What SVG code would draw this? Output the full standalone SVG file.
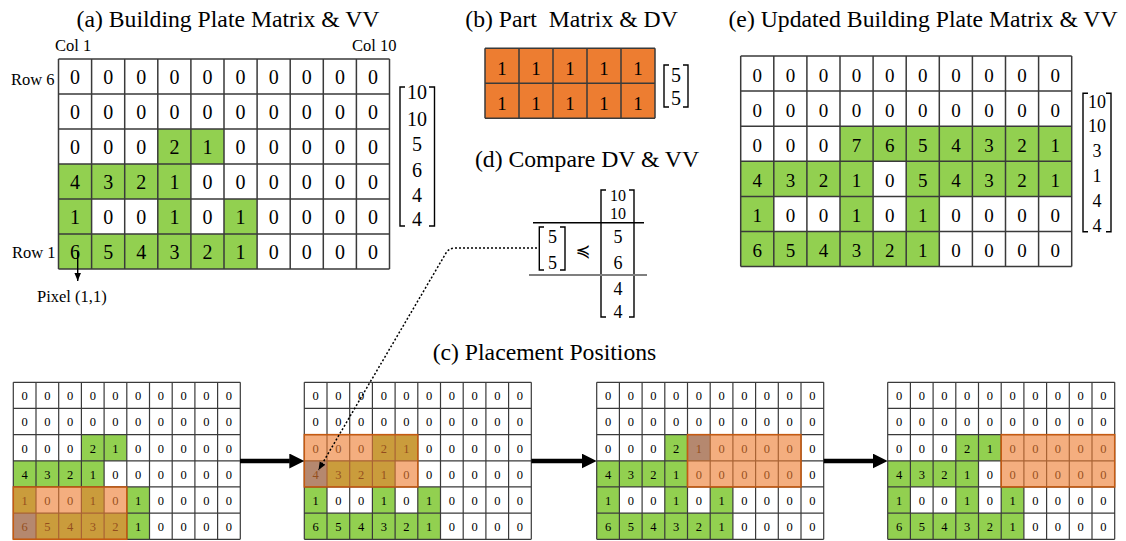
<svg xmlns="http://www.w3.org/2000/svg" width="1126" height="541" viewBox="0 0 1126 541">
<style>
text{font-family:"Liberation Serif","Times New Roman",serif;fill:#000}
.title{font-size:23.7px;text-anchor:middle}
.lbl{font-size:16.5px}
.d20{font-size:20px;text-anchor:middle}
.d19{font-size:19px;text-anchor:middle}
.d12{font-size:12.5px;text-anchor:middle}
.vec{font-size:20px;text-anchor:middle}
.vec18{font-size:18px;text-anchor:middle}
.vec16{font-size:16px;text-anchor:middle}
.grid{fill:none;stroke:#3a3a3a;stroke-width:1.5}
.sgrid{fill:none;stroke:#3a3a3a;stroke-width:1.2}
.g{fill:#92D050}
.o{fill:#ED7D31}
.px{fill:#5B9BD5}
.ov{fill:#ED7D31;fill-opacity:0.62;stroke:#C55A11;stroke-width:1.5}
.br{fill:none;stroke:#000;stroke-width:1.4}
.thick{stroke:#000;stroke-width:4.5;fill:none}
.dot{stroke:#000;stroke-width:1.5;fill:none;stroke-dasharray:2 2}
.thin{stroke:#000;stroke-width:1.4;fill:none}
</style>
<defs>
<marker id="bigArrow" markerUnits="userSpaceOnUse" markerWidth="16" markerHeight="16" refX="0.5" refY="7.5" orient="auto"><path d="M0,0 L15,7.5 L0,15 z" fill="#000"/></marker>
<marker id="smallArrow" markerUnits="userSpaceOnUse" markerWidth="9" markerHeight="7" refX="8" refY="3.25" orient="auto"><path d="M0,0 L8,3.25 L0,6.5 z" fill="#000"/></marker>
</defs>

<!-- (a) -->
<g id="plate-a">
<text class="title" x="228" y="27">(a) Building Plate Matrix &amp; VV</text>
<text class="lbl" x="55" y="50.5">Col 1</text>
<text class="lbl" x="352" y="50.5">Col 10</text>
<text class="lbl" x="11" y="85">Row 6</text>
<text class="lbl" x="12" y="258.3">Row 1</text>
<text class="lbl" x="37" y="301.5">Pixel (1,1)</text>
<rect class="g" x="157.8" y="129" width="66.2" height="35"/>
<rect class="g" x="58.5" y="164" width="132.4" height="35"/>
<rect class="g" x="58.5" y="199" width="33.1" height="35"/>
<rect class="g" x="157.8" y="199" width="33.1" height="35"/>
<rect class="g" x="224" y="199" width="33.1" height="35"/>
<rect class="g" x="58.5" y="234" width="198.6" height="35"/>
<path class="grid" d="M58.5,59V269M91.6,59V269M124.7,59V269M157.8,59V269M190.9,59V269M224,59V269M257.1,59V269M290.2,59V269M323.3,59V269M356.4,59V269M389.5,59V269M58.5,59H389.5M58.5,94H389.5M58.5,129H389.5M58.5,164H389.5M58.5,199H389.5M58.5,234H389.5M58.5,269H389.5"/>
<g class="d20">
<text x="75.1" y="84">0</text><text x="108.2" y="84">0</text><text x="141.3" y="84">0</text><text x="174.4" y="84">0</text><text x="207.5" y="84">0</text><text x="240.6" y="84">0</text><text x="273.7" y="84">0</text><text x="306.8" y="84">0</text><text x="339.9" y="84">0</text><text x="373" y="84">0</text>
<text x="75.1" y="119">0</text><text x="108.2" y="119">0</text><text x="141.3" y="119">0</text><text x="174.4" y="119">0</text><text x="207.5" y="119">0</text><text x="240.6" y="119">0</text><text x="273.7" y="119">0</text><text x="306.8" y="119">0</text><text x="339.9" y="119">0</text><text x="373" y="119">0</text>
<text x="75.1" y="154">0</text><text x="108.2" y="154">0</text><text x="141.3" y="154">0</text><text x="174.4" y="154">2</text><text x="207.5" y="154">1</text><text x="240.6" y="154">0</text><text x="273.7" y="154">0</text><text x="306.8" y="154">0</text><text x="339.9" y="154">0</text><text x="373" y="154">0</text>
<text x="75.1" y="189">4</text><text x="108.2" y="189">3</text><text x="141.3" y="189">2</text><text x="174.4" y="189">1</text><text x="207.5" y="189">0</text><text x="240.6" y="189">0</text><text x="273.7" y="189">0</text><text x="306.8" y="189">0</text><text x="339.9" y="189">0</text><text x="373" y="189">0</text>
<text x="75.1" y="224">1</text><text x="108.2" y="224">0</text><text x="141.3" y="224">0</text><text x="174.4" y="224">1</text><text x="207.5" y="224">0</text><text x="240.6" y="224">1</text><text x="273.7" y="224">0</text><text x="306.8" y="224">0</text><text x="339.9" y="224">0</text><text x="373" y="224">0</text>
<text x="75.1" y="259">6</text><text x="108.2" y="259">5</text><text x="141.3" y="259">4</text><text x="174.4" y="259">3</text><text x="207.5" y="259">2</text><text x="240.6" y="259">1</text><text x="273.7" y="259">0</text><text x="306.8" y="259">0</text><text x="339.9" y="259">0</text><text x="373" y="259">0</text>
</g>
<path class="br" d="M405,87H400V226H405M429,87H434.5V226H429"/>
<g class="vec">
<text x="417" y="99">10</text><text x="417" y="126">10</text><text x="417" y="150.7">5</text><text x="417" y="176.7">6</text><text x="417" y="201.7">4</text><text x="417" y="226">4</text>
</g>
</g>

<!-- (b) -->
<g id="part-b">
<text class="title" x="571.5" y="27" xml:space="preserve">(b) Part  Matrix &amp; DV</text>
<rect class="o" x="485" y="48.3" width="170" height="70"/>
<path class="grid" d="M485,48.3V118.3M519,48.3V118.3M553,48.3V118.3M587,48.3V118.3M621,48.3V118.3M655,48.3V118.3M485,48.3H655M485,83.3H655M485,118.3H655"/>
<g class="d19">
<text x="502" y="75">1</text><text x="536" y="75">1</text><text x="570" y="75">1</text><text x="604" y="75">1</text><text x="638" y="75">1</text>
<text x="502" y="110">1</text><text x="536" y="110">1</text><text x="570" y="110">1</text><text x="604" y="110">1</text><text x="638" y="110">1</text>
</g>
<path class="br" d="M669,65H664V107H669M683,65H688V107H683"/>
<text class="vec" x="676" y="82">5</text>
<text class="vec" x="676" y="105">5</text>
</g>

<!-- (d) -->
<g id="compare-d">
<text class="title" x="587" y="167">(d) Compare DV &amp; VV</text>
<path class="br" d="M606,190H601V317H606M629,190H634V317H629"/>
<g class="vec16">
<text x="618" y="201">10</text><text x="618" y="219">10</text>
</g>
<g class="vec18">
<text x="618" y="243">5</text><text x="618" y="269">6</text><text x="618" y="295">4</text><text x="618" y="318">4</text>
</g>
<path d="M533,222.7H644" stroke="#000" stroke-width="1.5"/>
<path d="M529,275H647" stroke="#7f7f7f" stroke-width="2"/>
<path class="br" d="M544,227H539.3V270H544M560,227H565V270H560"/>
<text class="vec18" x="552.5" y="243.3">5</text>
<text class="vec18" x="552.5" y="269">5</text>
<text x="583" y="257" style="font-family:'DejaVu Serif','DejaVu Sans',serif;font-size:18px;text-anchor:middle">≼</text>
</g>

<!-- (e) -->
<g id="plate-e">
<text class="title" x="923" y="27">(e) Updated Building Plate Matrix &amp; VV</text>
<rect class="g" x="840" y="126.2" width="231.7" height="35.1"/>
<rect class="g" x="740.7" y="161.3" width="132.4" height="35.1"/>
<rect class="g" x="906.2" y="161.3" width="165.5" height="35.1"/>
<rect class="g" x="740.7" y="196.4" width="33.1" height="35.1"/>
<rect class="g" x="840" y="196.4" width="33.1" height="35.1"/>
<rect class="g" x="906.2" y="196.4" width="33.1" height="35.1"/>
<rect class="g" x="740.7" y="231.5" width="198.6" height="35.1"/>
<path class="grid" d="M740.7,56V266.6M773.8,56V266.6M806.9,56V266.6M840,56V266.6M873.1,56V266.6M906.2,56V266.6M939.3,56V266.6M972.4,56V266.6M1005.5,56V266.6M1038.6,56V266.6M1071.7,56V266.6M740.7,56H1071.7M740.7,91.1H1071.7M740.7,126.2H1071.7M740.7,161.3H1071.7M740.7,196.4H1071.7M740.7,231.5H1071.7M740.7,266.6H1071.7"/>
<g class="d19">
<text x="757.3" y="81.5">0</text><text x="790.4" y="81.5">0</text><text x="823.5" y="81.5">0</text><text x="856.6" y="81.5">0</text><text x="889.7" y="81.5">0</text><text x="922.8" y="81.5">0</text><text x="955.9" y="81.5">0</text><text x="989" y="81.5">0</text><text x="1022.1" y="81.5">0</text><text x="1055.2" y="81.5">0</text>
<text x="757.3" y="116.6">0</text><text x="790.4" y="116.6">0</text><text x="823.5" y="116.6">0</text><text x="856.6" y="116.6">0</text><text x="889.7" y="116.6">0</text><text x="922.8" y="116.6">0</text><text x="955.9" y="116.6">0</text><text x="989" y="116.6">0</text><text x="1022.1" y="116.6">0</text><text x="1055.2" y="116.6">0</text>
<text x="757.3" y="151.8">0</text><text x="790.4" y="151.8">0</text><text x="823.5" y="151.8">0</text><text x="856.6" y="151.8">7</text><text x="889.7" y="151.8">6</text><text x="922.8" y="151.8">5</text><text x="955.9" y="151.8">4</text><text x="989" y="151.8">3</text><text x="1022.1" y="151.8">2</text><text x="1055.2" y="151.8">1</text>
<text x="757.3" y="186.9">4</text><text x="790.4" y="186.9">3</text><text x="823.5" y="186.9">2</text><text x="856.6" y="186.9">1</text><text x="889.7" y="186.9">0</text><text x="922.8" y="186.9">5</text><text x="955.9" y="186.9">4</text><text x="989" y="186.9">3</text><text x="1022.1" y="186.9">2</text><text x="1055.2" y="186.9">1</text>
<text x="757.3" y="222">1</text><text x="790.4" y="222">0</text><text x="823.5" y="222">0</text><text x="856.6" y="222">1</text><text x="889.7" y="222">0</text><text x="922.8" y="222">1</text><text x="955.9" y="222">0</text><text x="989" y="222">0</text><text x="1022.1" y="222">0</text><text x="1055.2" y="222">0</text>
<text x="757.3" y="257">6</text><text x="790.4" y="257">5</text><text x="823.5" y="257">4</text><text x="856.6" y="257">3</text><text x="889.7" y="257">2</text><text x="922.8" y="257">1</text><text x="955.9" y="257">0</text><text x="989" y="257">0</text><text x="1022.1" y="257">0</text><text x="1055.2" y="257">0</text>
</g>
<path class="br" d="M1088,93.3H1083V231.7H1088M1106,93.3H1111V231.7H1106"/>
<g class="vec18">
<text x="1097" y="108">10</text><text x="1097" y="132">10</text><text x="1097" y="157">3</text><text x="1097" y="182">1</text><text x="1097" y="207">4</text><text x="1097" y="232">4</text>
</g>
</g>

<!-- (c) -->
<text class="title" x="544.5" y="360">(c) Placement Positions</text>

<g id="pos-1" transform="translate(13.3,382.3)">
<rect class="g" x="68.1" y="52.33" width="45.4" height="26.17"/>
<rect class="g" x="0" y="78.5" width="90.8" height="26.17"/>
<rect class="g" x="0" y="104.67" width="22.7" height="26.17"/>
<rect class="g" x="68.1" y="104.67" width="22.7" height="26.17"/>
<rect class="g" x="113.5" y="104.67" width="22.7" height="26.17"/>
<rect class="g" x="0" y="130.83" width="136.2" height="26.17"/>
<rect class="px" x="0" y="130.83" width="22.7" height="26.17"/>
<path class="sgrid" d="M0,0V157M22.7,0V157M45.4,0V157M68.1,0V157M90.8,0V157M113.5,0V157M136.2,0V157M158.9,0V157M181.6,0V157M204.3,0V157M227,0V157M0,0H227M0,26.17H227M0,52.33H227M0,78.5H227M0,104.67H227M0,130.83H227M0,157H227"/>
<g class="d12">
<text x="11.4" y="18">0</text><text x="34.1" y="18">0</text><text x="56.8" y="18">0</text><text x="79.5" y="18">0</text><text x="102.2" y="18">0</text><text x="124.9" y="18">0</text><text x="147.6" y="18">0</text><text x="170.3" y="18">0</text><text x="193" y="18">0</text><text x="215.7" y="18">0</text>
<text x="11.4" y="44.2">0</text><text x="34.1" y="44.2">0</text><text x="56.8" y="44.2">0</text><text x="79.5" y="44.2">0</text><text x="102.2" y="44.2">0</text><text x="124.9" y="44.2">0</text><text x="147.6" y="44.2">0</text><text x="170.3" y="44.2">0</text><text x="193" y="44.2">0</text><text x="215.7" y="44.2">0</text>
<text x="11.4" y="70.3">0</text><text x="34.1" y="70.3">0</text><text x="56.8" y="70.3">0</text><text x="79.5" y="70.3">2</text><text x="102.2" y="70.3">1</text><text x="124.9" y="70.3">0</text><text x="147.6" y="70.3">0</text><text x="170.3" y="70.3">0</text><text x="193" y="70.3">0</text><text x="215.7" y="70.3">0</text>
<text x="11.4" y="96.5">4</text><text x="34.1" y="96.5">3</text><text x="56.8" y="96.5">2</text><text x="79.5" y="96.5">1</text><text x="102.2" y="96.5">0</text><text x="124.9" y="96.5">0</text><text x="147.6" y="96.5">0</text><text x="170.3" y="96.5">0</text><text x="193" y="96.5">0</text><text x="215.7" y="96.5">0</text>
<text x="11.4" y="122.7">1</text><text x="34.1" y="122.7">0</text><text x="56.8" y="122.7">0</text><text x="79.5" y="122.7">1</text><text x="102.2" y="122.7">0</text><text x="124.9" y="122.7">1</text><text x="147.6" y="122.7">0</text><text x="170.3" y="122.7">0</text><text x="193" y="122.7">0</text><text x="215.7" y="122.7">0</text>
<text x="11.4" y="148.8">6</text><text x="34.1" y="148.8">5</text><text x="56.8" y="148.8">4</text><text x="79.5" y="148.8">3</text><text x="102.2" y="148.8">2</text><text x="124.9" y="148.8">1</text><text x="147.6" y="148.8">0</text><text x="170.3" y="148.8">0</text><text x="193" y="148.8">0</text><text x="215.7" y="148.8">0</text>
</g>
<rect class="ov" x="0" y="104.67" width="113.5" height="52.33"/>
</g>

<g id="pos-2" transform="translate(304.3,382.3)">
<rect class="g" x="68.1" y="52.33" width="45.4" height="26.17"/>
<rect class="g" x="0" y="78.5" width="90.8" height="26.17"/>
<rect class="g" x="0" y="104.67" width="22.7" height="26.17"/>
<rect class="g" x="68.1" y="104.67" width="22.7" height="26.17"/>
<rect class="g" x="113.5" y="104.67" width="22.7" height="26.17"/>
<rect class="g" x="0" y="130.83" width="136.2" height="26.17"/>
<rect class="px" x="0" y="78.5" width="22.7" height="26.17"/>
<path class="sgrid" d="M0,0V157M22.7,0V157M45.4,0V157M68.1,0V157M90.8,0V157M113.5,0V157M136.2,0V157M158.9,0V157M181.6,0V157M204.3,0V157M227,0V157M0,0H227M0,26.17H227M0,52.33H227M0,78.5H227M0,104.67H227M0,130.83H227M0,157H227"/>
<g class="d12">
<text x="11.4" y="18">0</text><text x="34.1" y="18">0</text><text x="56.8" y="18">0</text><text x="79.5" y="18">0</text><text x="102.2" y="18">0</text><text x="124.9" y="18">0</text><text x="147.6" y="18">0</text><text x="170.3" y="18">0</text><text x="193" y="18">0</text><text x="215.7" y="18">0</text>
<text x="11.4" y="44.2">0</text><text x="34.1" y="44.2">0</text><text x="56.8" y="44.2">0</text><text x="79.5" y="44.2">0</text><text x="102.2" y="44.2">0</text><text x="124.9" y="44.2">0</text><text x="147.6" y="44.2">0</text><text x="170.3" y="44.2">0</text><text x="193" y="44.2">0</text><text x="215.7" y="44.2">0</text>
<text x="11.4" y="70.3">0</text><text x="34.1" y="70.3">0</text><text x="56.8" y="70.3">0</text><text x="79.5" y="70.3">2</text><text x="102.2" y="70.3">1</text><text x="124.9" y="70.3">0</text><text x="147.6" y="70.3">0</text><text x="170.3" y="70.3">0</text><text x="193" y="70.3">0</text><text x="215.7" y="70.3">0</text>
<text x="11.4" y="96.5">4</text><text x="34.1" y="96.5">3</text><text x="56.8" y="96.5">2</text><text x="79.5" y="96.5">1</text><text x="102.2" y="96.5">0</text><text x="124.9" y="96.5">0</text><text x="147.6" y="96.5">0</text><text x="170.3" y="96.5">0</text><text x="193" y="96.5">0</text><text x="215.7" y="96.5">0</text>
<text x="11.4" y="122.7">1</text><text x="34.1" y="122.7">0</text><text x="56.8" y="122.7">0</text><text x="79.5" y="122.7">1</text><text x="102.2" y="122.7">0</text><text x="124.9" y="122.7">1</text><text x="147.6" y="122.7">0</text><text x="170.3" y="122.7">0</text><text x="193" y="122.7">0</text><text x="215.7" y="122.7">0</text>
<text x="11.4" y="148.8">6</text><text x="34.1" y="148.8">5</text><text x="56.8" y="148.8">4</text><text x="79.5" y="148.8">3</text><text x="102.2" y="148.8">2</text><text x="124.9" y="148.8">1</text><text x="147.6" y="148.8">0</text><text x="170.3" y="148.8">0</text><text x="193" y="148.8">0</text><text x="215.7" y="148.8">0</text>
</g>
<rect class="ov" x="0" y="52.33" width="113.5" height="52.33"/>
</g>

<g id="pos-3" transform="translate(596.7,382.3)">
<rect class="g" x="68.1" y="52.33" width="45.4" height="26.17"/>
<rect class="g" x="0" y="78.5" width="90.8" height="26.17"/>
<rect class="g" x="0" y="104.67" width="22.7" height="26.17"/>
<rect class="g" x="68.1" y="104.67" width="22.7" height="26.17"/>
<rect class="g" x="113.5" y="104.67" width="22.7" height="26.17"/>
<rect class="g" x="0" y="130.83" width="136.2" height="26.17"/>
<rect class="px" x="90.8" y="52.33" width="22.7" height="26.17"/>
<path class="sgrid" d="M0,0V157M22.7,0V157M45.4,0V157M68.1,0V157M90.8,0V157M113.5,0V157M136.2,0V157M158.9,0V157M181.6,0V157M204.3,0V157M227,0V157M0,0H227M0,26.17H227M0,52.33H227M0,78.5H227M0,104.67H227M0,130.83H227M0,157H227"/>
<g class="d12">
<text x="11.4" y="18">0</text><text x="34.1" y="18">0</text><text x="56.8" y="18">0</text><text x="79.5" y="18">0</text><text x="102.2" y="18">0</text><text x="124.9" y="18">0</text><text x="147.6" y="18">0</text><text x="170.3" y="18">0</text><text x="193" y="18">0</text><text x="215.7" y="18">0</text>
<text x="11.4" y="44.2">0</text><text x="34.1" y="44.2">0</text><text x="56.8" y="44.2">0</text><text x="79.5" y="44.2">0</text><text x="102.2" y="44.2">0</text><text x="124.9" y="44.2">0</text><text x="147.6" y="44.2">0</text><text x="170.3" y="44.2">0</text><text x="193" y="44.2">0</text><text x="215.7" y="44.2">0</text>
<text x="11.4" y="70.3">0</text><text x="34.1" y="70.3">0</text><text x="56.8" y="70.3">0</text><text x="79.5" y="70.3">2</text><text x="102.2" y="70.3">1</text><text x="124.9" y="70.3">0</text><text x="147.6" y="70.3">0</text><text x="170.3" y="70.3">0</text><text x="193" y="70.3">0</text><text x="215.7" y="70.3">0</text>
<text x="11.4" y="96.5">4</text><text x="34.1" y="96.5">3</text><text x="56.8" y="96.5">2</text><text x="79.5" y="96.5">1</text><text x="102.2" y="96.5">0</text><text x="124.9" y="96.5">0</text><text x="147.6" y="96.5">0</text><text x="170.3" y="96.5">0</text><text x="193" y="96.5">0</text><text x="215.7" y="96.5">0</text>
<text x="11.4" y="122.7">1</text><text x="34.1" y="122.7">0</text><text x="56.8" y="122.7">0</text><text x="79.5" y="122.7">1</text><text x="102.2" y="122.7">0</text><text x="124.9" y="122.7">1</text><text x="147.6" y="122.7">0</text><text x="170.3" y="122.7">0</text><text x="193" y="122.7">0</text><text x="215.7" y="122.7">0</text>
<text x="11.4" y="148.8">6</text><text x="34.1" y="148.8">5</text><text x="56.8" y="148.8">4</text><text x="79.5" y="148.8">3</text><text x="102.2" y="148.8">2</text><text x="124.9" y="148.8">1</text><text x="147.6" y="148.8">0</text><text x="170.3" y="148.8">0</text><text x="193" y="148.8">0</text><text x="215.7" y="148.8">0</text>
</g>
<rect class="ov" x="90.8" y="52.33" width="113.5" height="52.33"/>
</g>

<g id="pos-4" transform="translate(887.7,382.3)">
<rect class="g" x="68.1" y="52.33" width="45.4" height="26.17"/>
<rect class="g" x="0" y="78.5" width="90.8" height="26.17"/>
<rect class="g" x="0" y="104.67" width="22.7" height="26.17"/>
<rect class="g" x="68.1" y="104.67" width="22.7" height="26.17"/>
<rect class="g" x="113.5" y="104.67" width="22.7" height="26.17"/>
<rect class="g" x="0" y="130.83" width="136.2" height="26.17"/>
<path class="sgrid" d="M0,0V157M22.7,0V157M45.4,0V157M68.1,0V157M90.8,0V157M113.5,0V157M136.2,0V157M158.9,0V157M181.6,0V157M204.3,0V157M227,0V157M0,0H227M0,26.17H227M0,52.33H227M0,78.5H227M0,104.67H227M0,130.83H227M0,157H227"/>
<g class="d12">
<text x="11.4" y="18">0</text><text x="34.1" y="18">0</text><text x="56.8" y="18">0</text><text x="79.5" y="18">0</text><text x="102.2" y="18">0</text><text x="124.9" y="18">0</text><text x="147.6" y="18">0</text><text x="170.3" y="18">0</text><text x="193" y="18">0</text><text x="215.7" y="18">0</text>
<text x="11.4" y="44.2">0</text><text x="34.1" y="44.2">0</text><text x="56.8" y="44.2">0</text><text x="79.5" y="44.2">0</text><text x="102.2" y="44.2">0</text><text x="124.9" y="44.2">0</text><text x="147.6" y="44.2">0</text><text x="170.3" y="44.2">0</text><text x="193" y="44.2">0</text><text x="215.7" y="44.2">0</text>
<text x="11.4" y="70.3">0</text><text x="34.1" y="70.3">0</text><text x="56.8" y="70.3">0</text><text x="79.5" y="70.3">2</text><text x="102.2" y="70.3">1</text><text x="124.9" y="70.3">0</text><text x="147.6" y="70.3">0</text><text x="170.3" y="70.3">0</text><text x="193" y="70.3">0</text><text x="215.7" y="70.3">0</text>
<text x="11.4" y="96.5">4</text><text x="34.1" y="96.5">3</text><text x="56.8" y="96.5">2</text><text x="79.5" y="96.5">1</text><text x="102.2" y="96.5">0</text><text x="124.9" y="96.5">0</text><text x="147.6" y="96.5">0</text><text x="170.3" y="96.5">0</text><text x="193" y="96.5">0</text><text x="215.7" y="96.5">0</text>
<text x="11.4" y="122.7">1</text><text x="34.1" y="122.7">0</text><text x="56.8" y="122.7">0</text><text x="79.5" y="122.7">1</text><text x="102.2" y="122.7">0</text><text x="124.9" y="122.7">1</text><text x="147.6" y="122.7">0</text><text x="170.3" y="122.7">0</text><text x="193" y="122.7">0</text><text x="215.7" y="122.7">0</text>
<text x="11.4" y="148.8">6</text><text x="34.1" y="148.8">5</text><text x="56.8" y="148.8">4</text><text x="79.5" y="148.8">3</text><text x="102.2" y="148.8">2</text><text x="124.9" y="148.8">1</text><text x="147.6" y="148.8">0</text><text x="170.3" y="148.8">0</text><text x="193" y="148.8">0</text><text x="215.7" y="148.8">0</text>
</g>
<rect class="ov" x="113.5" y="52.33" width="113.5" height="52.33"/>
</g>

<g id="connectors">
<path class="thick" d="M240,461H289.8" marker-end="url(#bigArrow)"/>
<path class="thick" d="M531.3,461H582.2" marker-end="url(#bigArrow)"/>
<path class="thick" d="M823.7,461H873.2" marker-end="url(#bigArrow)"/>
<path class="dot" d="M537,248H455Q449,248 446,253L318.5,470" marker-end="url(#smallArrow)"/>
<path class="thin" d="M77.7,252V281" marker-end="url(#smallArrow)"/>
</g>
</svg>
